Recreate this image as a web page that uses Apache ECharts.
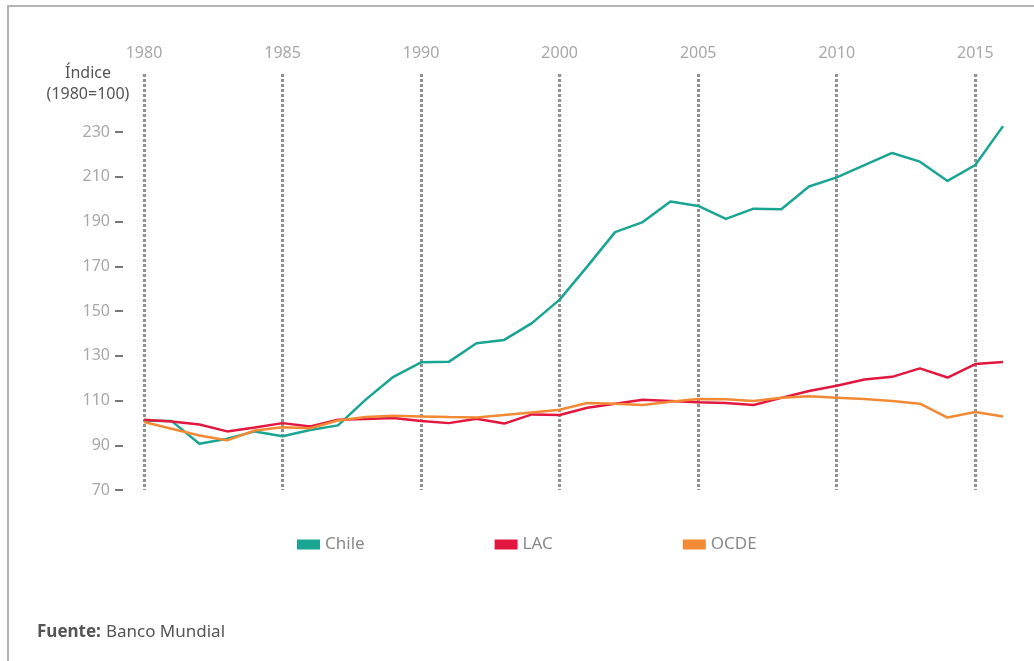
<!DOCTYPE html>
<html>
<head>
<meta charset="utf-8">
<script src="https://cdn.jsdelivr.net/npm/echarts@6/dist/echarts.min.js"></script>
<style>
  html, body { margin: 0; padding: 0; background: #fff; }
  #chart { position: absolute; left: 0; top: 0; width: 1034px; height: 661px; }
  .frame {
    position: absolute; left: 7px; top: 5px; right: 0; bottom: 0;
    border-top: 2px solid #b4b4b4; border-left: 2px solid #b4b4b4;
    pointer-events: none;
  }
</style>
</head>
<body>
<div id="chart"></div>
<div class="frame"></div>
<script>
// años (el eje original salta de 1990 a 2000 en cinco pasos)
var years = ['1980', '1981', '1982', '1983', '1984', '1985', '1986', '1987', '1988', '1989', '1990',
  '1992', '1994', '1996', '1998',
  '2000', '2001', '2002', '2003', '2004', '2005', '2006', '2007', '2008', '2009', '2010',
  '2011', '2012', '2013', '2014', '2015', '2016']

var chile = [101, 100.8, 90.7, 92.9, 96.2, 94, 96.8, 98.9, 110.4, 120.6, 127.1,
  127.3, 135.6, 137.1, 144.6,
  155.1, 170, 185.3, 189.8, 199, 197, 191.2, 195.8, 195.5, 205.7, 209.8,
  215.3, 220.7, 216.8, 208.2, 215.3, 232.7]

var lac = [101.4, 100.6, 99.3, 96.2, 97.9, 99.9, 98.4, 101.4, 101.7, 102.2, 100.9,
  99.9, 101.9, 99.7, 103.8,
  103.5, 106.8, 108.6, 110.4, 109.8, 109.2, 108.9, 108, 111.2, 114.3, 116.6,
  119.4, 120.6, 124.4, 120.3, 126.3, 127.2]

var ocde = [100.4, 97.4, 94.4, 92.2, 96.6, 98.1, 97.6, 101.1, 102.6, 103.2, 102.9,
  102.6, 102.4, 103.5, 104.7,
  105.9, 108.9, 108.6, 108, 109.5, 110.7, 110.6, 109.8, 111.2, 111.9, 111.3,
  110.7, 109.8, 108.6, 102.4, 104.9, 102.9]

var yTicks = [70, 90, 110, 130, 150, 170, 190, 210, 230]

var chart = echarts.init(document.getElementById('chart'))
var font = 'Noto Sans'

var option = {
  animation: false,
  title: [
    {
      text: 'Índice\n(1980=100)',
      left: 88,
      top: 63,
      padding: 0,
      textAlign: 'center',
      textStyle: { color: '#555', fontSize: 16, fontWeight: 'normal', fontFamily: font, lineHeight: 21 }
    },
    {
      text: '{b|Fuente:} {n|Banco Mundial}',
      left: 37,
      top: 623,
      padding: 0,
      textStyle: {
        rich: {
          b: { color: '#555', fontSize: 17, fontWeight: 'bold', fontFamily: font },
          n: { color: '#555', fontSize: 17, fontWeight: 'normal', fontFamily: font }
        }
      }
    }
  ],
  legend: {
    left: 297,
    top: 536,
    padding: 0,
    itemWidth: 23,
    itemHeight: 10,
    itemGap: 130,
    icon: 'rect',
    textStyle: { color: '#8a8a8a', fontSize: 17, fontFamily: font },
    data: ['Chile', 'LAC', 'OCDE']
  },
  grid: {
    left: 144,
    right: 31,
    top: 74,
    bottom: 171
  },
  xAxis: {
    type: 'category',
    position: 'top',
    boundaryGap: false,
    data: years,
    axisLine: { show: false },
    axisTick: { show: false },
    axisLabel: {
      interval: 4,
      margin: 13,
      color: '#a8a8a8',
      fontSize: 16,
      fontFamily: font
    },
    splitLine: {
      show: true,
      interval: 4,
      lineStyle: { color: '#929292', width: 3, type: [3, 2] }
    }
  },
  yAxis: {
    type: 'value',
    min: 70,
    max: 256,
    interval: 20,
    offset: 21,
    axisLine: { show: false },
    axisTick: { show: true, length: 8, customValues: yTicks, lineStyle: { color: '#777', width: 2 } },
    axisLabel: {
      margin: 13,
      customValues: yTicks,
      color: '#a8a8a8',
      fontSize: 16,
      fontFamily: font
    },
    splitLine: { show: false }
  },
  series: [
    {
      name: 'Chile',
      type: 'line',
      data: chile,
      showSymbol: false,
      color: '#1aa593',
      lineStyle: { width: 2.5 }
    },
    {
      name: 'LAC',
      type: 'line',
      data: lac,
      showSymbol: false,
      color: '#e2173f',
      lineStyle: { width: 2.5 }
    },
    {
      name: 'OCDE',
      type: 'line',
      data: ocde,
      showSymbol: false,
      color: '#f28a35',
      lineStyle: { width: 2.5 }
    }
  ]
}
chart.setOption(option)
</script>
</body>
</html>
